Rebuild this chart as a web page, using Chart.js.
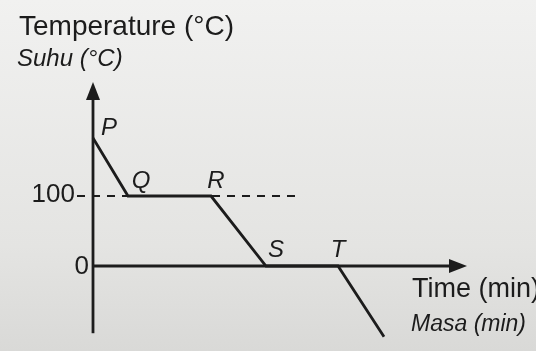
<!DOCTYPE html>
<html>
<head>
<meta charset="utf-8">
<script src="https://cdn.jsdelivr.net/npm/chart.js@4"></script>
<style>
  html, body { margin: 0; padding: 0; }
  body { width: 536px; height: 351px; background: linear-gradient(#f1f1f0, #e4e4e2 70%, #d9d9d7); }
  #wrap { position: relative; width: 536px; height: 351px; }
</style>
</head>
<body>
<div id="wrap"><canvas id="myChart"></canvas></div>
<script>
// heating / cooling curve, time in arbitrary units
const curveTime = [0, 3.5, 11.8, 17.3, 24.5, 29.1];
const curveTemp = [183, 100, 100, 0, 0, -101];
const pointNames = ['P', 'Q', 'R', 'S', 'T'];
const tickValues = [0, 100];
const tickLabels = ['0', '100'];
const dashTime = [-1.6, 20.4];

const ink = '#1c1c1c';

var curve = curveTime.map((t, i) => ({ x: t, y: curveTemp[i] }));

// label offsets in px (x, y) from each point
var nameOffsets = [[16, -10], [13, -15], [5, -15], [10, -16], [0, -16]];

var axesPlugin = {
  id: 'axesPlugin',
  afterDatasetsDraw(chart) {
    var ctx = chart.ctx;
    var xs = chart.scales.x, ys = chart.scales.y;
    var x0 = xs.getPixelForValue(0), y0 = ys.getPixelForValue(0);
    var yTop = ys.getPixelForValue(263), yBot = ys.getPixelForValue(-96);
    var xEnd = xs.getPixelForValue(37.4);
    ctx.save();
    ctx.strokeStyle = ink;
    ctx.fillStyle = ink;
    ctx.lineWidth = 2.8;
    // y axis
    ctx.beginPath();
    ctx.moveTo(x0, yBot);
    ctx.lineTo(x0, yTop + 10);
    ctx.stroke();
    ctx.beginPath();
    ctx.moveTo(x0, yTop);
    ctx.lineTo(x0 - 7, yTop + 18);
    ctx.lineTo(x0 + 7, yTop + 18);
    ctx.closePath();
    ctx.fill();
    // x axis
    ctx.beginPath();
    ctx.moveTo(x0, y0);
    ctx.lineTo(xEnd - 10, y0);
    ctx.stroke();
    ctx.beginPath();
    ctx.moveTo(xEnd, y0);
    ctx.lineTo(xEnd - 18, y0 - 7);
    ctx.lineTo(xEnd - 18, y0 + 7);
    ctx.closePath();
    ctx.fill();

    // tick labels
    ctx.font = '26px "Liberation Sans", Arial, sans-serif';
    ctx.textAlign = 'right';
    ctx.textBaseline = 'middle';
    ctx.fillText(tickLabels[1], x0 - 18, ys.getPixelForValue(tickValues[1]) - 1);
    ctx.fillText(tickLabels[0], x0 - 4, ys.getPixelForValue(tickValues[0]) + 1);

    // point names
    ctx.font = 'italic 24px "Liberation Sans", Arial, sans-serif';
    ctx.textAlign = 'center';
    pointNames.forEach((n, i) => {
      var px = xs.getPixelForValue(curveTime[i]) + nameOffsets[i][0];
      var py = ys.getPixelForValue(curveTemp[i]) + nameOffsets[i][1];
      ctx.fillText(n, px, py);
    });

    // axis titles
    ctx.textAlign = 'left';
    ctx.textBaseline = 'alphabetic';
    ctx.font = '28px "Liberation Sans", Arial, sans-serif';
    ctx.fillText('Temperature (°C)', 19, 35);
    ctx.font = 'italic 24px "Liberation Sans", Arial, sans-serif';
    ctx.fillText('Suhu (°C)', 17, 66);
    ctx.font = '27px "Liberation Sans", Arial, sans-serif';
    ctx.fillText('Time (min)', 412, 297);
    ctx.font = 'italic 23px "Liberation Sans", Arial, sans-serif';
    ctx.fillText('Masa (min)', 411, 331);
    ctx.restore();
  }
};

var config = {
  type: 'scatter',
  data: {
    datasets: [{
      data: curve,
      showLine: true,
      borderColor: ink,
      borderWidth: 2.8,
      pointRadius: 0,
      tension: 0
    }, {
      data: dashTime.map(t => ({ x: t, y: tickValues[1] })),
      showLine: true,
      borderColor: ink,
      borderWidth: 2.2,
      borderDash: [8, 7],
      pointRadius: 0
    }]
  },
  options: {
    responsive: false,
    animation: false,
    layout: { padding: 0 },
    plugins: { legend: { display: false }, tooltip: { enabled: false } },
    scales: {
      x: { type: 'linear', display: false, min: -9.3, max: 44.3 },
      y: { type: 'linear', display: false, min: -121.4, max: 380 }
    }
  },
  plugins: [axesPlugin]
};

var canvas = document.querySelector('#myChart');
canvas.width = 536;
canvas.height = 351;
var myChart = new Chart(canvas, config);
</script>
</body>
</html>
